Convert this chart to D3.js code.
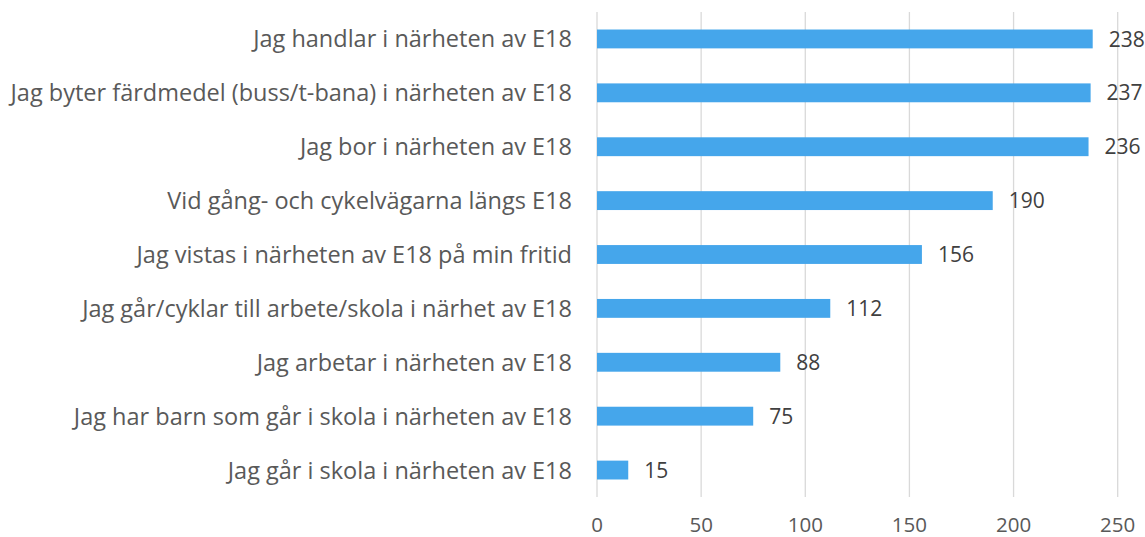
<!DOCTYPE html>
<html><head><meta charset="utf-8">
<script src="https://cdn.jsdelivr.net/npm/d3@7"></script>
<style>body{margin:0;background:#fff;} text{font-family:"Open Sans",sans-serif;}</style>
</head><body><svg id="c" width="1145" height="537"></svg>
<script>
const categories = [
  "Jag handlar i närheten av E18",
  "Jag byter färdmedel (buss/t-bana) i närheten av E18",
  "Jag bor i närheten av E18",
  "Vid gång- och cykelvägarna längs E18",
  "Jag vistas i närheten av E18 på min fritid",
  "Jag går/cyklar till arbete/skola i närhet av E18",
  "Jag arbetar i närheten av E18",
  "Jag har barn som går i skola i närheten av E18",
  "Jag går i skola i närheten av E18"
];
const values = [238, 237, 236, 190, 156, 112, 88, 75, 15];
const ticks = [0, 50, 100, 150, 200, 250];

const svg = d3.select("#c");
const x = d3.scaleLinear().domain([0, 250]).range([597, 1117.7]);
const y = d3.scaleBand().domain(categories).range([12, 497]).paddingInner(0.65).paddingOuter(0.325);

svg.append("g").selectAll("line").data(ticks).join("line")
  .attr("x1", d => x(d)).attr("x2", d => x(d))
  .attr("y1", 12).attr("y2", 497)
  .attr("stroke", "#d9d9d9").attr("stroke-width", 1.3);

svg.append("g").selectAll("rect").data(values).join("rect")
  .attr("x", x(0)).attr("y", (d, i) => y(categories[i]))
  .attr("width", d => x(d) - x(0)).attr("height", y.bandwidth())
  .attr("fill", "#45A6EB");

svg.append("g").selectAll("text").data(values).join("text")
  .attr("x", d => x(d) + 16).attr("y", (d, i) => y(categories[i]) + y.bandwidth() / 2)
  .attr("dy", "0.36em").attr("font-size", 21).attr("fill", "#404040")
  .text(d => d);

svg.append("g").selectAll("text").data(categories).join("text")
  .attr("x", 572).attr("y", d => y(d) + y.bandwidth() / 2)
  .attr("dy", "0.36em").attr("text-anchor", "end").attr("font-size", 23.5).attr("fill", "#595959")
  .text(d => d);

svg.append("g").selectAll("text").data(ticks).join("text")
  .attr("x", d => x(d)).attr("y", 525)
  .attr("dy", "0.36em").attr("text-anchor", "middle").attr("font-size", 20.5).attr("fill", "#595959")
  .text(d => d);
</script></body></html>
